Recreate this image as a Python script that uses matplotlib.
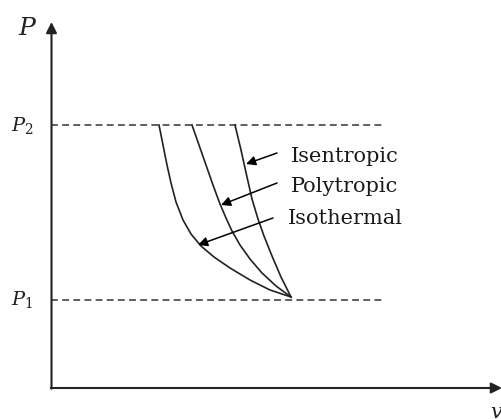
import matplotlib
matplotlib.use("Agg")
import matplotlib.pyplot as plt

plt.rcParams['mathtext.fontset'] = 'dejavuserif'

W, H = 502, 419

# schematic values in plot units (v to the right, P upward)
P1 = 419 - 300
P2 = 419 - 125
V_END = 382

iso_v = [159, 163, 167, 171, 176, 183, 191, 201, 214, 230, 250, 270, 291]
iso_P = [419 - y for y in [125, 145, 165, 183, 202, 220, 234, 246, 257, 268, 280, 290, 297]]

poly_v = [192, 199, 206, 213, 220, 226, 232, 240, 250, 262, 276, 291]
poly_P = [419 - y for y in [125, 145, 165, 185, 204, 218, 231, 245, 259, 273, 286, 297]]

isen_v = [235, 241, 247, 252, 258, 264, 272, 281, 291]
isen_P = [419 - y for y in [125, 150, 177, 199, 219, 236, 256, 277, 297]]

labels = ["Isentropic", "Polytropic", "Isothermal"]
label_pos = [(291, 419 - 156), (291, 419 - 186), (288, 419 - 219)]
arrow_from = [(277, 419 - 153), (277, 419 - 183), (273, 419 - 218)]
arrow_to = [(246, 419 - 164), (221, 419 - 205), (198, 419 - 245)]

fig = plt.figure(figsize=(W / 100, H / 100), dpi=100)
ax = fig.add_axes([0, 0, 1, 1])
ax.set_xlim(0, W)
ax.set_ylim(0, H)
ax.axis('off')

col = '#222222'
ox, oy = 51.5, 419 - 388

# axes with arrows
ax.annotate('', xy=(ox, 419 - 22), xytext=(ox, oy - 0.7),
            arrowprops=dict(arrowstyle='-|>', color=col, lw=1.5, mutation_scale=16,
                            shrinkA=0, shrinkB=0))
ax.annotate('', xy=(502, oy), xytext=(ox - 0.7, oy),
            arrowprops=dict(arrowstyle='-|>', color=col, lw=1.5, mutation_scale=16,
                            shrinkA=0, shrinkB=0))

# dashed pressure lines
for p in (P1, P2):
    ax.plot([ox, V_END], [p, p], color='#333333', lw=1.1, ls=(0, (4.5, 2.8)))

# process curves
for v, P in ((iso_v, iso_P), (poly_v, poly_P), (isen_v, isen_P)):
    ax.plot(v, P, color=col, lw=1.2, solid_joinstyle='round')

# label arrows and labels
for lab, lp, af, at in zip(labels, label_pos, arrow_from, arrow_to):
    ax.annotate('', xy=at, xytext=af,
                arrowprops=dict(arrowstyle='-|>', color='black', lw=1.1,
                                mutation_scale=14, shrinkA=0, shrinkB=0))
    ax.text(lp[0], lp[1], lab, fontsize=15, family='DejaVu Serif',
            ha='left', va='center', color='#1a1a1a')

# axis labels
ax.text(28, 419 - 28, r'$P$', fontsize=18, ha='center', va='center', color=col)
ax.text(22, P2, r'$P_2$', fontsize=14, ha='center', va='center', color=col)
ax.text(22, P1, r'$P_1$', fontsize=14, ha='center', va='center', color=col)
ax.text(490, 419 - 412, r'$v$', fontsize=15, ha='left', va='center', color=col)

fig.savefig('out.png', dpi=100)
